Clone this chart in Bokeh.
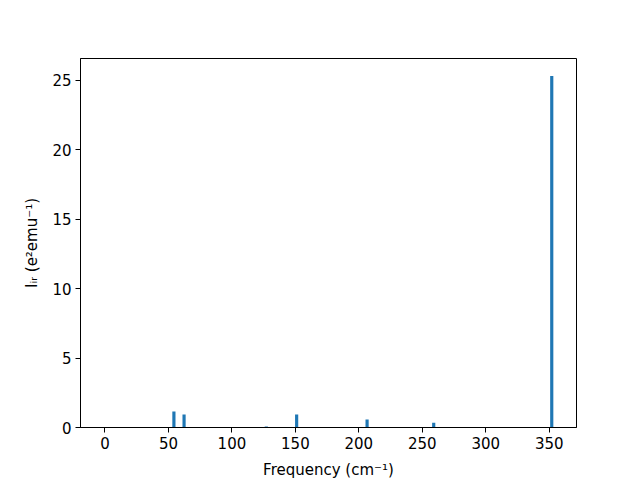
from bokeh.plotting import figure
from bokeh.models import Range1d, FixedTicker
from bokeh.embed import file_html
from bokeh.resources import INLINE

# Data
freqs = [54.3, 62.3, 127.1, 151.0, 206.5, 259.0, 352.0]
intensities = [1.15, 0.93, 0.07, 0.93, 0.57, 0.35, 25.3]
bar_width = 2.5
x_ticks = [0, 50, 100, 150, 200, 250, 300, 350]
y_ticks = [0, 5, 10, 15, 20, 25]

p = figure(frame_width=496, frame_height=369, output_backend="svg", toolbar_location=None,
           x_range=Range1d(-19.3, 371.5), y_range=Range1d(0, 26.56))
p.min_border_left = 80
p.min_border_right = 64
p.min_border_top = 58
p.min_border_bottom = 53

p.vbar(x=freqs, top=intensities, width=bar_width, bottom=0,
       fill_color="#1f77b4", line_color=None)

p.xgrid.visible = False
p.ygrid.visible = False
p.outline_line_color = "black"
p.outline_line_width = 1
p.background_fill_color = "white"
p.border_fill_color = "white"

p.xaxis.ticker = FixedTicker(ticks=x_ticks)
p.yaxis.ticker = FixedTicker(ticks=y_ticks)
for ax in (p.xaxis[0], p.yaxis[0]):
    ax.major_tick_in = 0
    ax.major_tick_out = 5
    ax.minor_tick_in = 0
    ax.minor_tick_out = 0
    ax.axis_line_color = "black"
    ax.major_tick_line_color = "black"
    ax.major_label_text_font = "DejaVu Sans"
    ax.major_label_text_font_size = "15px"
    ax.major_label_text_color = "black"
    ax.axis_label_text_font = "DejaVu Sans"
    ax.axis_label_text_font_size = "15px"
    ax.axis_label_text_font_style = "normal"
    ax.axis_label_text_color = "black"

p.xaxis.axis_label = "Frequency (cm\u207b\u00b9)"
p.yaxis.axis_label = "I\u1d62\u1d63 (e\u00b2emu\u207b\u00b9)"
p.xaxis.axis_label_standoff = 9
p.yaxis.axis_label_standoff = 8
p.xaxis.major_label_standoff = 4
p.yaxis.major_label_standoff = 4

open("out.html", "w").write(file_html(p, INLINE))
